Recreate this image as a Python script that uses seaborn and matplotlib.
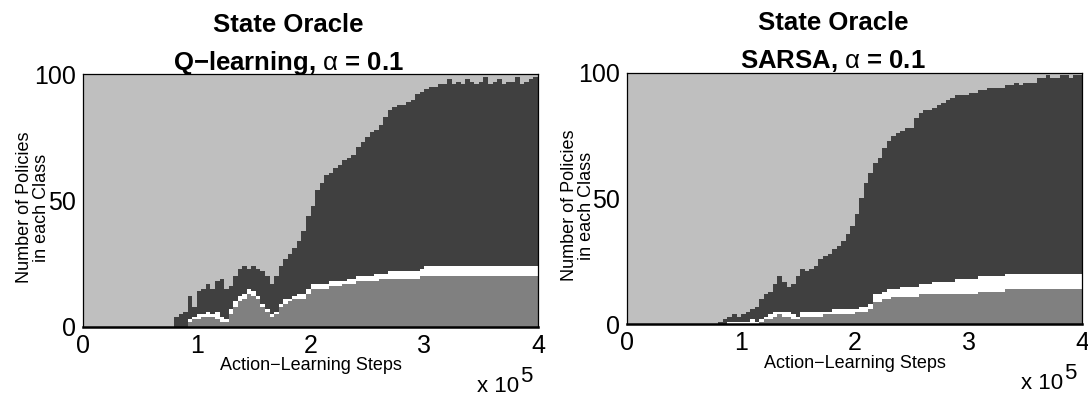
import numpy as np
import pandas as pd
import matplotlib
matplotlib.use("Agg")
import matplotlib.pyplot as plt
from matplotlib import transforms
import seaborn as sns

# ---------------------------------------------------------------------------
# Policy-class counts (out of 100 policies), one value per 4000-step bin
# ---------------------------------------------------------------------------
BIN_WIDTH = 4000
N_BINS = 100
bin_centers = np.arange(N_BINS) * BIN_WIDTH + BIN_WIDTH / 2

x_tick_values = [0, 100000, 200000, 300000, 400000]
x_tick_labels = ["0", "1", "2", "3", "4"]
y_tick_values = [0, 50, 100]

# Q-learning, alpha = 0.1
q_class_a = ([0] * 23 +
             [2, 3, 3, 4, 4, 4, 3, 2, 2, 5] +
             [8, 10, 11, 13, 12, 11, 8, 6, 4, 5] +
             [8, 9, 10, 11, 11, 11, 13, 15, 15, 15] +
             [15, 16, 16, 16, 17, 17, 17, 18, 18, 18] +
             [18, 18, 19, 19, 19, 19, 19, 19, 19, 19] +
             [19, 20, 20, 20, 20, 20, 20, 20] +
             [20] * 19)
q_class_b = ([0] * 23 +
             [1, 1, 2, 1, 2, 1, 3, 2, 1, 2] +
             [2, 2, 2, 2, 2, 1, 1, 1, 1, 1] +
             [1, 2, 1, 1, 2, 2, 2, 2, 2, 2] +
             [2, 2, 2, 2, 1, 2, 2, 2, 2, 2] +
             [2, 3, 2, 2, 3, 3, 3, 3, 3, 3] +
             [3, 3, 4, 4, 4, 4, 4, 4] +
             [4] * 19)
q_class_c = ([0] * 20 +
             [4, 5, 6, 9, 4, 9, 10, 11, 10, 12] +
             [15, 12, 9, 10, 11, 11, 8, 10, 11, 13] +
             [13, 12, 14, 15, 16, 18, 19, 21, 25, 29] +
             [31, 37, 40, 43, 43, 45, 46, 48, 48, 49] +
             [51, 53, 55, 57, 57, 59, 62, 64, 65, 66] +
             [66, 67, 68, 70, 70, 70, 71, 71, 72, 72] +
             [74, 72, 73, 72, 74, 73, 72, 73, 75, 72] +
             [73, 74, 72, 73, 73, 75, 72, 73, 74, 75])

# SARSA, alpha = 0.1
s_class_a = ([0] * 29 +
             [1, 2, 2, 3, 4, 3, 3, 2, 2, 3] +
             [3, 3, 3, 3, 4, 4, 4, 4, 4, 4, 4] +
             [5, 5, 5, 6, 9, 9, 10, 10] +
             [11] * 6 +
             [12] * 13 +
             [13] * 6 +
             [14] * 17)
s_class_b = ([0] * 22 +
             [1, 1, 1, 1, 1, 2, 1] +
             [1, 1, 2, 2, 1, 2, 2, 2, 1, 2] +
             [2, 2, 2, 2, 1, 1, 2, 2, 2, 2] +
             [2, 1, 2, 2, 2, 3, 3, 3, 4, 3] +
             [3, 4, 4, 4, 4, 4, 4, 4, 5, 5] +
             [5, 5, 5] +
             [6] * 28)
s_class_c = ([0] * 20 +
             [1, 2, 2, 3, 2, 3, 4, 4, 6, 8] +
             [9, 9, 11, 14, 12, 10, 12, 16, 17, 16] +
             [17, 18, 21, 22, 23, 24, 25, 27, 30, 33] +
             [38, 43, 49, 52, 52, 54, 57, 59, 61, 62] +
             [62, 63, 63, 67, 68, 69, 69, 69, 70, 71] +
             [72, 73, 73, 73, 73, 74, 74, 74, 74, 75] +
             [75, 75, 75, 75, 75, 76, 75, 76, 76, 76] +
             [78, 78, 79, 78, 78, 79, 79, 78, 79, 79])

CLASS_COLORS = {"A": "#808080", "B": "#FFFFFF", "C": "#404040", "D": "#BFBFBF"}
# seaborn stacks the first hue level on top
STACK_ORDER = ["D", "C", "B", "A"]
TOTAL = 100

sns.set_style("white")
plt.rcParams["font.family"] = ["Liberation Sans", "DejaVu Sans"]
plt.rcParams["mathtext.fontset"] = "custom"
plt.rcParams["mathtext.rm"] = "Liberation Sans"
plt.rcParams["mathtext.it"] = "Liberation Sans:italic"
plt.rcParams["mathtext.bf"] = "Liberation Sans:bold"
for key in ["text.color", "axes.labelcolor", "xtick.color", "ytick.color"]:
    plt.rcParams[key] = "black"


def panel_frame(a, b, c):
    a, b, c = np.array(a), np.array(b), np.array(c)
    d = TOTAL - (a + b + c)  # remaining policies
    parts = []
    for name, vals in zip(["A", "B", "C", "D"], [a, b, c, d]):
        parts.append(pd.DataFrame({"step": bin_centers, "policies": vals.astype(float),
                                   "cls": name}))
    return pd.concat(parts, ignore_index=True)


def draw_panel(fig, ax, df, subtitle):
    sns.histplot(data=df, x="step", weights="policies", hue="cls",
                 hue_order=STACK_ORDER, palette=CLASS_COLORS, multiple="stack",
                 binwidth=BIN_WIDTH, binrange=(0, N_BINS * BIN_WIDTH),
                 element="step", fill=True, alpha=1,
                 linewidth=0, legend=False, ax=ax)
    ax.set_xlim(0, 400000)
    ax.set_ylim(0, 100)
    ax.set_xticks(x_tick_values)
    ax.set_xticklabels(x_tick_labels)
    ax.set_yticks(y_tick_values)
    ax.tick_params(axis="both", length=0, labelsize=18)
    ax.tick_params(axis="x", pad=5)
    ax.tick_params(axis="y", pad=5)
    for side, sp in ax.spines.items():
        sp.set_visible(True)
        sp.set_color("black")
        sp.set_linewidth(0.9)
        sp.set_zorder(5)
    ax.spines["bottom"].set_linewidth(1.8)

    # two-line bold title
    ax.text(0.452, 1.169, "State Oracle", transform=ax.transAxes,
            ha="center", va="baseline", fontsize=18.5, fontweight="bold")
    ax.text(0.452, 1.017, subtitle, transform=ax.transAxes,
            ha="center", va="baseline", fontsize=18.5, fontweight="bold")

    ax.set_xlabel("Action\u2212Learning Steps", fontsize=13)
    ax.xaxis.set_label_coords(0.5, -0.122)
    ax.set_ylabel("Number of Policies\nin each Class", fontsize=13,
                  linespacing=1.0)
    ax.yaxis.set_label_coords(-0.072, 0.472)

    # axis multiplier "x 10^5" with a full-size raised exponent
    ax.text(0.988, -0.219, "5", transform=ax.transAxes,
            ha="right", va="baseline", fontsize=16)
    shift = transforms.offset_copy(ax.transAxes, fig=fig, x=-13.5, y=0,
                                   units="dots")
    ax.text(0.988, -0.259, "x 10", transform=shift,
            ha="right", va="baseline", fontsize=16)


fig = plt.figure(figsize=(10.88, 3.96), dpi=100)
ax1 = fig.add_axes([0.0763, 0.1750, 0.4182, 0.6374])
ax2 = fig.add_axes([0.5766, 0.1811, 0.4182, 0.6354])

draw_panel(fig, ax1, panel_frame(q_class_a, q_class_b, q_class_c),
           "Q\u2212learning, $\\mathrm{\\alpha}$ = 0.1")
draw_panel(fig, ax2, panel_frame(s_class_a, s_class_b, s_class_c),
           "SARSA, $\\mathrm{\\alpha}$ = 0.1")

fig.savefig("out.png", dpi=100)
